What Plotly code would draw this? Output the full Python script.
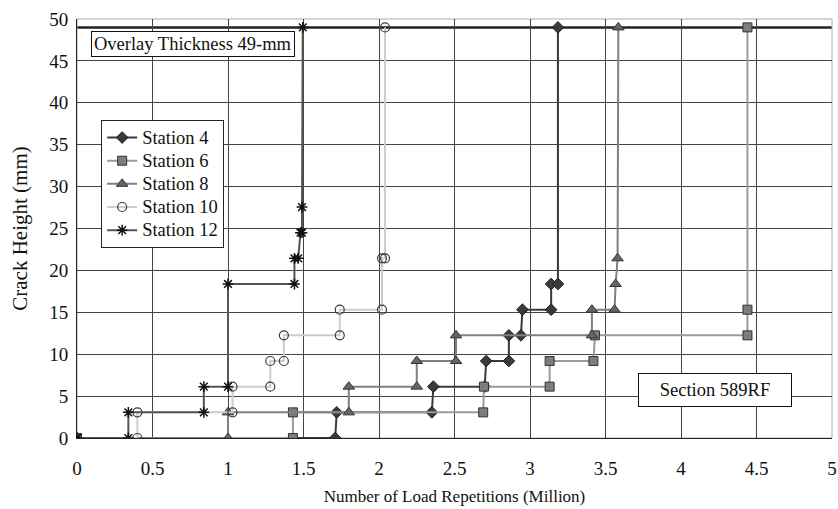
import plotly.graph_objects as go

# ---- data (million load repetitions, crack height mm) ----
st4_x = [0, 1.71, 1.72, 2.35, 2.36, 2.70, 2.71, 2.86, 2.86, 2.94, 2.95, 3.14, 3.14, 3.185, 3.185]
st4_y = [0, 0, 3.06, 3.06, 6.13, 6.13, 9.19, 9.19, 12.25, 12.25, 15.31, 15.31, 18.38, 18.38, 49]

st6_x = [0, 1.43, 1.43, 2.69, 2.695, 3.13, 3.13, 3.42, 3.43, 4.44, 4.44, 4.44]
st6_y = [0, 0, 3.06, 3.06, 6.13, 6.13, 9.19, 9.19, 12.25, 12.25, 15.31, 49]

st8_x = [0, 1.0, 1.0, 1.80, 1.80, 2.25, 2.25, 2.51, 2.51, 3.41, 3.41, 3.56, 3.567, 3.58, 3.585]
st8_y = [0, 0, 3.06, 3.06, 6.13, 6.13, 9.19, 9.19, 12.25, 12.25, 15.31, 15.31, 18.38, 21.44, 49]

st10_x = [0, 0.40, 0.40, 1.03, 1.03, 1.28, 1.28, 1.37, 1.37, 1.74, 1.74, 2.02, 2.02, 2.04, 2.04]
st10_y = [0, 0, 3.06, 3.06, 6.13, 6.13, 9.19, 9.19, 12.25, 12.25, 15.31, 15.31, 21.44, 21.44, 49]

st12_x = [0, 0.34, 0.34, 0.84, 0.84, 1.0, 1.0, 1.44, 1.44, 1.465, 1.48, 1.49, 1.49, 1.495]
st12_y = [0, 0, 3.06, 3.06, 6.13, 6.13, 18.38, 18.38, 21.44, 21.44, 24.5, 24.5, 27.56, 49]

station_names = ["Station 4", "Station 6", "Station 8", "Station 10", "Station 12"]
overlay_thickness = 49
x_ticks = [0, 0.5, 1, 1.5, 2, 2.5, 3, 3.5, 4, 4.5, 5]
y_ticks = [0, 5, 10, 15, 20, 25, 30, 35, 40, 45, 50]

FONT = "Liberation Serif"
INK = "#111111"


def legend_label(name):
    return f'<span style="font-size:18.5px">{name}</span>'


fig = go.Figure()

fig.add_trace(go.Scatter(
    x=st4_x, y=st4_y, name=legend_label(station_names[0]), mode="lines+markers",
    line=dict(color="#3a3a3a", width=2),
    marker=dict(symbol="diamond", size=9, color="#3a3a3a",
                line=dict(color="#222222", width=1))))
fig.add_trace(go.Scatter(
    x=st6_x, y=st6_y, name=legend_label(station_names[1]), mode="lines+markers",
    line=dict(color="#9a9a9a", width=2),
    marker=dict(symbol="square", size=9, color="#7d7d7d",
                line=dict(color="#333333", width=1))))
fig.add_trace(go.Scatter(
    x=st8_x, y=st8_y, name=legend_label(station_names[2]), mode="lines+markers",
    line=dict(color="#808080", width=2),
    marker=dict(symbol="triangle-up", size=10, color="#666666",
                line=dict(color="#333333", width=1))))
fig.add_trace(go.Scatter(
    x=st10_x, y=st10_y, name=legend_label(station_names[3]), mode="lines+markers",
    line=dict(color="#cccccc", width=2),
    marker=dict(symbol="circle-open", size=9, color="#3a3a3a",
                line=dict(color="#3a3a3a", width=1.2))))
fig.add_trace(go.Scatter(
    x=st12_x, y=st12_y, name=legend_label(station_names[4]), mode="lines+markers",
    line=dict(color="#555555", width=2),
    marker=dict(symbol="asterisk-open", size=9, color=INK,
                line=dict(color=INK, width=1.5))))

# overlay thickness reference line
fig.add_shape(type="line", xref="paper", x0=0, x1=1, yref="y",
              y0=overlay_thickness, y1=overlay_thickness,
              line=dict(color="#222222", width=2.5), layer="below")

fig.add_annotation(xref="paper", yref="paper", x=0.1536, y=0.940,
                   xanchor="center", yanchor="middle",
                   text="Overlay Thickness 49-mm", showarrow=False,
                   font=dict(family=FONT, size=18.5, color=INK),
                   bgcolor="white", bordercolor=INK, borderwidth=1,
                   borderpad=2)
fig.add_annotation(xref="paper", yref="paper", x=0.8444, y=0.1146,
                   xanchor="center", yanchor="middle",
                   text="Section 589RF", showarrow=False,
                   font=dict(family=FONT, size=18.5, color=INK),
                   bgcolor="white", bordercolor=INK, borderwidth=1,
                   borderpad=6, width=140)

axis_common = dict(showgrid=True, gridcolor="#444444", gridwidth=1,
                   zeroline=False, showline=True, linecolor="#222222",
                   linewidth=1, mirror=False, ticks="", automargin=False,
                   ticklabeloverflow="allow",
                   tickfont=dict(family=FONT, size=19, color=INK))

fig.update_xaxes(range=[0, 5], tickvals=x_ticks,
                 ticktext=[f"{v:g}" for v in x_ticks],
                 ticklabelstandoff=13,
                 title=dict(text="Number of Load Repetitions (Million)",
                            font=dict(family=FONT, size=17, color=INK),
                            standoff=12),
                 **axis_common)
fig.update_yaxes(range=[0, 50], tickvals=y_ticks,
                 ticktext=[str(v) for v in y_ticks],
                 ticklabelstandoff=4,
                 title=dict(text="Crack Height (mm)",
                            font=dict(family=FONT, size=21, color=INK),
                            standoff=15),
                 **axis_common)

# light top/right frame
fig.add_shape(type="rect", xref="paper", yref="paper", x0=0, x1=1, y0=0, y1=1,
              line=dict(color="#aaaaaa", width=1), layer="below")

fig.update_layout(
    width=838, height=509,
    margin=dict(l=77, r=6, t=19, b=71),
    paper_bgcolor="white", plot_bgcolor="white",
    font=dict(family=FONT, size=18, color=INK),
    showlegend=True,
    hovermode=False,
    legend=dict(x=0.032, y=0.759, xanchor="left", yanchor="top",
                bgcolor="white", bordercolor="#222222", borderwidth=1,
                font=dict(family=FONT, size=15.5, color=INK),
                tracegroupgap=0, itemwidth=30),
)

fig.write_html("out.html",
               config={"displayModeBar": False},
               post_script="document.body.style.margin='0';document.body.style.overflow='hidden';")
